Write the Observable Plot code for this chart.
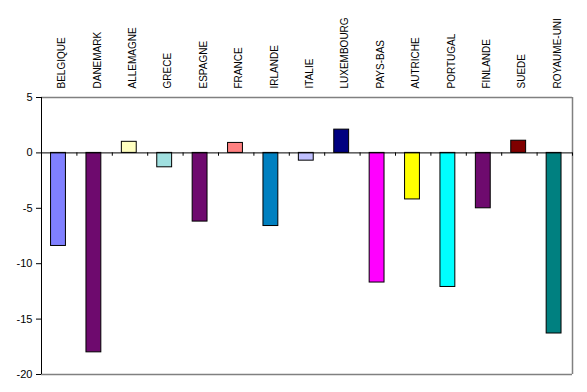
<!DOCTYPE html>
<html>
<head>
<meta charset="utf-8">
<script src="https://cdn.jsdelivr.net/npm/d3@7"></script>
<script src="https://cdn.jsdelivr.net/npm/@observablehq/plot@0.6"></script>
<style>
  body { margin: 0; background: #fff; }
  svg { display: block; }
</style>
</head>
<body>
<div id="chart"></div>
<script>
const countries = ["BELGIQUE","DANEMARK","ALLEMAGNE","GRECE","ESPAGNE","FRANCE","IRLANDE","ITALIE","LUXEMBOURG","PAYS-BAS","AUTRICHE","PORTUGAL","FINLANDE","SUEDE","ROYAUME-UNI"];
const values = [-8.4, -18.0, 1.0, -1.3, -6.2, 0.9, -6.6, -0.7, 2.1, -11.7, -4.2, -12.1, -5.0, 1.1, -16.3];
const colors = ["#8080FF","#6E0A6E","#FFFFC0","#A0E0E0","#6E0A6E","#FF8080","#0080C0","#C0C0FF","#000080","#FF00FF","#FFFF00","#00FFFF","#6E0A6E","#800000","#008080"];
const yTicks = [-20, -15, -10, -5, 0, 5];

const data = countries.map((c, i) => ({country: c, value: values[i], color: colors[i], i}));
const n = countries.length;

const chart = Plot.plot({
  width: 587,
  height: 392,
  marginLeft: 41,
  marginRight: 15,
  marginTop: 97,
  marginBottom: 18,
  style: {fontFamily: "'Liberation Sans', Arial, sans-serif", fontSize: "11px", background: "#fff", color: "#000"},
  x: {domain: [0, n], axis: null},
  y: {domain: [-20, 5], axis: null},
  color: {type: "identity"},
  marks: [
    Plot.ruleY([5, -20], {stroke: "#808080", strokeWidth: 1.5}),
    Plot.ruleX([n], {y1: -20, y2: 5, stroke: "#808080", strokeWidth: 1.5}),
    Plot.rectY(data, {x1: d => d.i + 0.27, x2: d => d.i + 0.69, y1: 0, y2: "value", fill: "color", stroke: "black", strokeWidth: 1}),
    Plot.ruleY([0], {stroke: "black", strokeWidth: 1}),
    Plot.ruleX(d3.range(1, n + 1), {y1: 0, y2: -0.3, stroke: "black"}),
    Plot.ruleX([0], {y1: -20, y2: 5, stroke: "black"}),
    Plot.axisY({ticks: yTicks, tickSize: 5, tickPadding: 4, tickFormat: d => String(d), label: null, fontSize: 11}),
    Plot.text(data, {x: d => d.i + 0.47, frameAnchor: "top", dy: -9, rotate: -90, textAnchor: "start", text: "country", fontSize: 10, fill: "black"})
  ]
});
document.getElementById("chart").appendChild(chart);
</script>
</body>
</html>
